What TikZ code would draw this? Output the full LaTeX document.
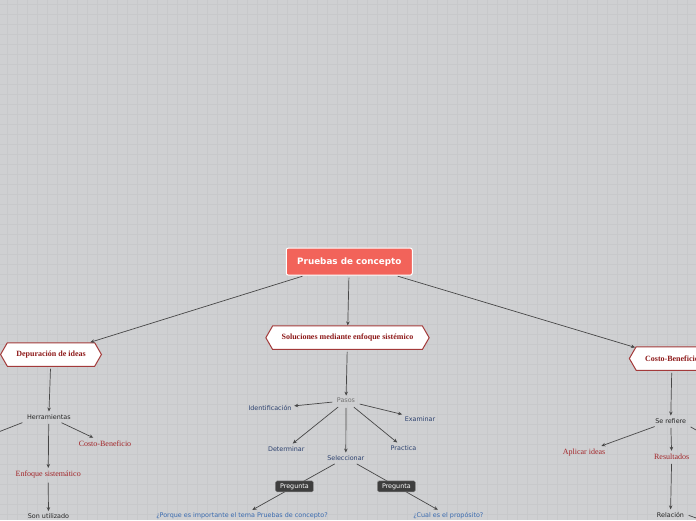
\documentclass[tikz,border=0pt]{standalone}
\usepackage{fontspec}
\setmainfont{Liberation Serif}
\newfontfamily\labelfont{DejaVu Sans}
\usetikzlibrary{shapes.symbols,arrows.meta}

\definecolor{canvasbg}{HTML}{CFD0D2}
\definecolor{gridgray}{HTML}{C8C9CB}
\definecolor{rootred}{HTML}{F2635A}
\definecolor{darkred}{HTML}{8E1A1A}
\definecolor{hexborder}{HTML}{A33A3A}
\definecolor{serifred}{HTML}{A3262A}
\definecolor{navy}{HTML}{2C416E}
\definecolor{qblue}{HTML}{3A6BB0}
\definecolor{linkgray}{HTML}{474747}
\definecolor{tagbg}{HTML}{3E3E3E}

\begin{document}
\begin{tikzpicture}[x=1pt, y=-1pt,
  rootbox/.style={draw=white, line width=1pt, fill=rootred, rounded corners=2pt,
    minimum width=126pt, minimum height=27pt, text=white,
    font=\labelfont\bfseries\fontsize{8.8}{10}\selectfont},
  hexbox/.style={shape=signal, signal to=west and east, signal pointer angle=120,
    draw=hexborder, line width=1pt, fill=white, text=darkred,
    minimum height=23.5pt, inner xsep=9pt, inner ysep=0pt,
    font=\bfseries\fontsize{8}{9.6}\selectfont},
  plain/.style={inner sep=2.5pt, text=black!85, font=\labelfont\fontsize{6.4}{7.7}\selectfont},
  pasosnode/.style={plain, text=black!55},
  stepnode/.style={plain, text=navy},
  question/.style={plain, text=qblue},
  redterm/.style={inner sep=2.5pt, text=serifred, font=\fontsize{8}{9.6}\selectfont},
  tag/.style={fill=tagbg, draw=black!45, line width=0.4pt, rounded corners=1.5pt,
    minimum width=38pt, minimum height=11pt, inner sep=1pt, text=white,
    font=\labelfont\fontsize{6.4}{7.7}\selectfont},
  link/.style={draw=linkgray, line width=0.7pt, -{Stealth[length=4pt,width=3.5pt]},
    shorten <=2pt}]
\def\W{696}
\def\H{520}
% Canvas
\useasboundingbox (0,0) rectangle (\W,\H);
\clip (0,0) rectangle (\W,\H);
\fill[canvasbg] (0,0) rectangle (\W,\H);
\foreach \gx in {0,...,69} \draw[gridgray, line width=0.7pt] ({7.3+10*\gx},0) -- ({7.3+10*\gx},\H);
\foreach \gy in {0,...,51} \draw[gridgray, line width=0.7pt] (0,{4+10*\gy}) -- (\W,{4+10*\gy});

% Main topic
\node[rootbox] (root) at (349.3,261.6) {Pruebas de concepto};

% Subtopics
\node[hexbox] (dep) at (51,354.5) {Depuración de ideas};
\node[hexbox] (sol) at (347.5,337.7) {Soluciones mediante enfoque sistémico};
\node[hexbox] (cb) at (672,358.5) {Costo-Beneficio};

% Left branch
\node[plain] (herr) at (48.8,416.7) {Herramientas};
\node[redterm] (cbleft) at (105,443.3) {Costo-Beneficio};
\node[redterm] (enfo) at (48.2,474.3) {Enfoque sistemático};
\node[plain] (son) at (48.5,516.3) {Son utilizado};
\coordinate (herrout) at (-40,447);

% Center branch
\node[pasosnode] (pasos) at (346,400.7) {Pasos};
\node[stepnode] (ident) at (270,408.3) {Identificación};
\node[stepnode] (exam) at (420,418.7) {Examinar};
\node[stepnode] (deter) at (286.3,448.7) {Determinar};
\node[stepnode] (selec) at (345.8,457.7) {Seleccionar};
\node[stepnode] (pract) at (403.5,447.7) {Practica};
\node[question] (qone) at (242,515.7) {¿Porque es importante el tema Pruebas de concepto?};
\node[question] (qtwo) at (448.3,515.7) {¿Cual es el propósito?};

% Right branch
\node[plain] (seref) at (670.7,420.7) {Se refiere};
\node[redterm] (aplic) at (584,452.3) {Aplicar ideas};
\node[redterm] (resul) at (671.7,456.3) {Resultados};
\node[plain] (relac) at (670.5,514.7) {Relación};
\coordinate (serefout) at (740,455);
\coordinate (relacout) at (760,540);

% Connectors
\draw[link] (root) -- (dep);
\draw[link] (root) -- (sol);
\draw[link] (root) -- (cb);

\draw[link] (dep) -- (herr);
\draw[link] (herr.south west) -- (herrout);
\draw[link] (herr) -- (cbleft);
\draw[link] (herr) -- (enfo);
\draw[link] (enfo) -- (son);

\draw[link] (sol) -- (pasos);
\draw[link] (pasos) -- (ident);
\draw[link] (pasos) -- (exam);
\draw[link] (pasos) -- (deter);
\draw[link] (pasos) -- (selec);
\draw[link] (pasos) -- (pract);
\draw[link] (selec) -- node[tag] {Pregunta} (qone);
\draw[link] (selec) -- node[tag] {Pregunta} (qtwo);

\draw[link] (cb) -- (seref);
\draw[link] (seref) -- (aplic);
\draw[link] (seref) -- (resul);
\draw[link] (seref.south east) -- (serefout);
\draw[link] (resul) -- (relac);
\draw[link] (relac.east) -- (relacout);

\end{tikzpicture}
\end{document}
